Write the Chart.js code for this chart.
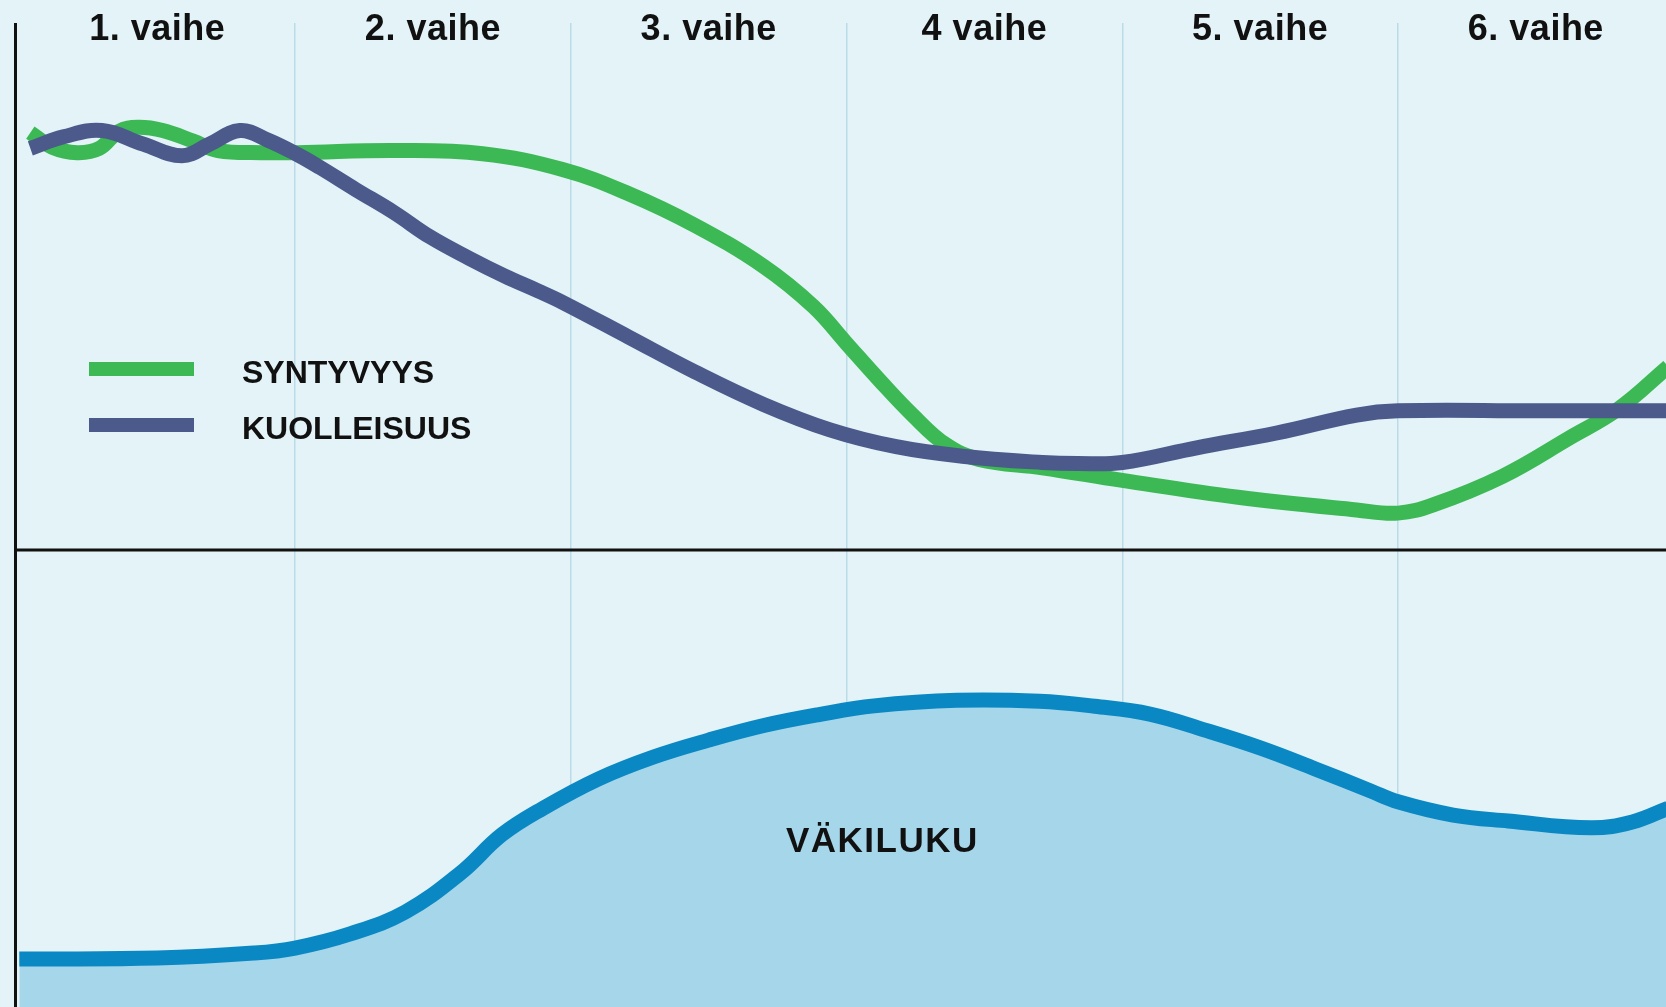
<!DOCTYPE html>
<html lang="fi">
<head>
<meta charset="utf-8">
<title>Väestöllinen siirtymä</title>
<script src="https://cdn.jsdelivr.net/npm/chart.js@4.4.1/dist/chart.umd.min.js"></script>
<style>
  html, body { margin: 0; padding: 0; background: #e3f3f7; overflow: hidden; }
  #wrap { width: 1666px; height: 1007px; }
</style>
</head>
<body>
<div id="wrap"><canvas id="chart"></canvas></div>
<script>
const phaseLabels = ["1. vaihe", "2. vaihe", "3. vaihe", "4 vaihe", "5. vaihe", "6. vaihe"];

// x = position along the phases (0..6), y = rate (arbitrary ‰ scale)
const birthX = [0.04, 0.12, 0.21, 0.29, 0.36, 0.43, 0.52, 0.63, 0.72, 0.88, 1.01, 1.36, 1.68, 1.97, 2.21, 2.45, 2.70, 2.88, 3.00, 3.12, 3.24, 3.36, 3.48, 3.71, 4.00, 4.42, 4.85, 5.00, 5.13, 5.38, 5.62, 5.80, 5.98];
const birthY = [39.6, 38.2, 37.7, 38.1, 39.7, 40.1, 39.8, 38.8, 37.9, 37.7, 37.7, 37.9, 37.6, 36.1, 33.8, 30.8, 26.9, 23.1, 19.6, 16.1, 12.8, 10.0, 8.6, 7.8, 6.6, 5.0, 3.8, 3.5, 4.3, 7.0, 10.6, 13.4, 17.4];

const deathX = [0.04, 0.16, 0.30, 0.45, 0.59, 0.69, 0.80, 0.90, 1.01, 1.09, 1.22, 1.36, 1.49, 1.63, 1.76, 1.88, 1.97, 2.21, 2.45, 2.70, 2.94, 3.18, 3.42, 3.71, 3.84, 4.00, 4.27, 4.56, 4.85, 5.00, 5.49, 5.98];
const deathY = [38.1, 39.2, 39.8, 38.5, 37.4, 38.5, 39.8, 38.9, 37.5, 36.3, 34.2, 32.0, 29.7, 27.7, 26.0, 24.6, 23.5, 20.2, 16.9, 13.8, 11.4, 9.8, 8.9, 8.3, 8.2, 8.3, 9.7, 11.1, 12.8, 13.2, 13.2, 13.2];

// population (index)
const popX = [0.00, 0.50, 0.85, 1.00, 1.20, 1.40, 1.60, 1.75, 1.90, 2.10, 2.30, 2.50, 2.70, 2.90, 3.10, 3.40, 3.70, 3.90, 4.10, 4.30, 4.50, 4.70, 4.90, 5.00, 5.20, 5.40, 5.70, 5.85, 5.98];
const popY = [10.5, 10.7, 11.8, 12.9, 16.0, 20.8, 29.3, 37.7, 43.5, 49.9, 54.7, 58.4, 61.6, 64.0, 65.9, 67.1, 66.9, 65.8, 64.1, 60.6, 56.7, 52.1, 47.3, 44.9, 42.0, 40.7, 39.2, 40.5, 43.5];

const popLabel = { text: "VÄKILUKU", x: 3.13, y: 34 };

// rates panel takes the upper part of the plot, population the lower part
const split = 527 / 984;
const rateMax = 50;
const popAtSplit = 100;

const toPoints = (xs, ys) => xs.map((x, i) => ({ x: x, y: ys[i] }));

const font = (size) => "bold " + size + "px 'Liberation Sans', Arial, sans-serif";

const decorations = {
  id: "decorations",
  beforeDraw(chart) {
    const { ctx, width, height } = chart;
    ctx.save();
    ctx.fillStyle = "#e3f3f7";
    ctx.fillRect(0, 0, width, height);
    ctx.restore();
  },
  afterDatasetsDraw(chart) {
    const { ctx, chartArea, scales } = chart;
    const zeroY = scales.yRate.getPixelForValue(0);
    const axisX = chartArea.left - 0.5;

    ctx.save();
    ctx.strokeStyle = "#111";
    ctx.lineWidth = 3;
    ctx.beginPath();
    ctx.moveTo(axisX, chartArea.top);
    ctx.lineTo(axisX, chartArea.bottom);
    ctx.moveTo(axisX, zeroY);
    ctx.lineTo(chartArea.right, zeroY);
    ctx.stroke();

    ctx.fillStyle = "#111";
    ctx.textAlign = "center";
    ctx.textBaseline = "alphabetic";
    ctx.font = font(36);
    ctx.letterSpacing = "0.5px";
    phaseLabels.forEach((label, i) => {
      ctx.fillText(label, scales.x.getPixelForValue(i + 0.5), 40);
    });

    // population label
    ctx.font = font(35);
    ctx.letterSpacing = "1.5px";
    ctx.fillText(popLabel.text, scales.x.getPixelForValue(popLabel.x), scales.yPop.getPixelForValue(popLabel.y));

    // legend for the two rates
    ctx.letterSpacing = "0px";
    ctx.textAlign = "left";
    ctx.font = font(32);
    const rows = [chart.data.datasets[1], chart.data.datasets[0]];
    rows.forEach((ds, i) => {
      const y = 369 + i * 56;
      ctx.fillStyle = ds.borderColor;
      ctx.fillRect(89, y - 7, 105, 14);
      ctx.fillStyle = "#111";
      ctx.fillText(ds.label, 242, y + 14);
    });
    ctx.restore();
  }
};

new Chart(document.getElementById("chart"), {
  type: "line",
  data: {
    datasets: [
      {
        label: "KUOLLEISUUS",
        data: toPoints(deathX, deathY),
        yAxisID: "yRate",
        borderColor: "#4b5a8b",
        borderWidth: 15,
        order: 1
      },
      {
        label: "SYNTYVYYS",
        data: toPoints(birthX, birthY),
        yAxisID: "yRate",
        borderColor: "#3cb954",
        borderWidth: 15,
        order: 2
      },
      {
        label: "VÄKILUKU",
        data: toPoints(popX, popY),
        yAxisID: "yPop",
        borderColor: "#0a88c4",
        backgroundColor: "#a6d6ea",
        borderWidth: 15,
        fill: "start",
        order: 3
      }
    ]
  },
  options: {
    responsive: true,
    maintainAspectRatio: false,
    devicePixelRatio: 1,
    animation: false,
    events: [],
    layout: { padding: { top: 23, left: 16, right: 0, bottom: 0 } },
    elements: {
      point: { radius: 0 },
      line: { tension: 0.4, borderJoinStyle: "round", borderCapStyle: "butt" }
    },
    plugins: {
      legend: { display: false },
      tooltip: { enabled: false }
    },
    scales: {
      x: {
        type: "linear",
        min: -0.012,
        max: 5.972,
        border: { display: false },
        grid: {
          drawTicks: false,
          lineWidth: 1.5,
          color: (c) => (c.tick && c.tick.value === 0 ? "transparent" : "#bcdbe8")
        },
        ticks: { display: false, stepSize: 1, includeBounds: false }
      },
      yRate: {
        display: false,
        min: -rateMax * (1 - split) / split,
        max: rateMax
      },
      yPop: {
        display: false,
        min: 0,
        max: popAtSplit / (1 - split)
      }
    }
  },
  plugins: [decorations]
});
</script>
</body>
</html>
